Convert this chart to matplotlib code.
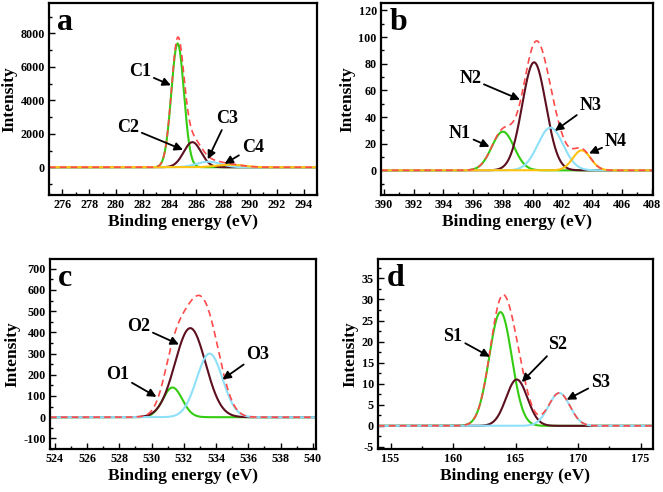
import numpy as np
import matplotlib
matplotlib.use("Agg")
import matplotlib.pyplot as plt
from matplotlib.ticker import MultipleLocator

plt.rcParams['font.family'] = 'Liberation Serif'
plt.rcParams['font.weight'] = 'bold'
plt.rcParams['axes.unicode_minus'] = False

# fitted components: center (eV), height, sigma (eV)
c_names = ['C1', 'C2', 'C3', 'C4']
c_center = [284.6, 285.7, 286.9, 288.5]
c_height = [7400, 1500, 330, 150]
c_sigma = [0.47, 0.65, 0.9, 1.0]

n_names = ['N1', 'N2', 'N3', 'N4']
n_center = [398.0, 400.1, 401.2, 403.3]
n_height = [29, 81, 32, 15]
n_sigma = [0.75, 0.8, 0.85, 0.6]

o_names = ['O1', 'O2', 'O3']
o_center = [531.3, 532.4, 533.6]
o_height = [140, 420, 300]
o_sigma = [0.6, 0.95, 0.8]

s_names = ['S1', 'S2', 'S3']
s_center = [163.8, 165.1, 168.5]
s_height = [27, 11, 7.8]
s_sigma = [0.9, 0.85, 0.85]

# label text position and arrow tip (data coords)
c_text = [(281.8, 5700), (280.9, 2400), (288.3, 2900), (290.2, 1200)]
c_tip = [(284.1, 4900), (285.0, 1040), (286.85, 480), (288.1, 200)]
n_text = [(395.1, 27.7), (395.8, 68.9), (403.9, 48.9), (405.6, 21.4)]
n_tip = [(397.1, 17.7), (399.15, 53), (401.5, 29.6), (403.8, 12.7)]
o_text = [(527.9, 201), (529.2, 429), (536.6, 296)]
o_tip = [(530.3, 96), (531.7, 343), (534.4, 178)]
s_text = [(160.0, 21.2), (168.4, 19.2), (171.8, 10.4)]
s_tip = [(162.95, 16.4), (165.5, 10.4), (169.1, 6.2)]

GREEN = '#33cc11'
MAROON = '#5c0f1f'
CYAN = '#8ee0f8'
YELLOW = '#ffc20e'
RED = '#ff4a4a'

W, H = 663, 492
fig = plt.figure(figsize=(W / 100, H / 100), dpi=100)


def make_ax(l, r, t, b):
    return fig.add_axes([l / W, 1 - b / H, (r - l) / W, (b - t) / H])


def panel(ax, letter, names, center, height, sigma, colors, xlim, ylim,
          xmaj, xmin, ymaj, ymin, texts, tips):
    x = np.linspace(xlim[0], xlim[1], 1500)
    total = np.zeros_like(x)
    comps = []
    for c, h, s in zip(center, height, sigma):
        y = h * np.exp(-(x - c) ** 2 / (2 * s ** 2))
        comps.append(y)
        total += y
    for y, col in zip(comps, colors):
        ax.plot(x, y, color=col, lw=1.5)
    ax.plot(x, total, color=RED, lw=1.2, ls=(0, (4, 2.5)))
    ax.set_xlim(*xlim)
    ax.set_ylim(*ylim)
    ax.xaxis.set_major_locator(MultipleLocator(xmaj))
    ax.xaxis.set_minor_locator(MultipleLocator(xmin))
    ax.yaxis.set_major_locator(MultipleLocator(ymaj))
    ax.yaxis.set_minor_locator(MultipleLocator(ymin))
    ax.tick_params(which='both', direction='in', top=False, right=False,
                   labelsize=8.7, width=1.0)
    ax.tick_params(which='major', length=4, pad=3)
    ax.tick_params(which='minor', length=2)
    for lab in ax.get_xticklabels() + ax.get_yticklabels():
        lab.set_fontweight('bold')
    for sp in ax.spines.values():
        sp.set_linewidth(1.6)
    ax.set_xlabel('Binding energy (eV)', fontsize=12.5, fontweight='bold',
                  labelpad=2)
    ax.set_ylabel('Intensity', fontsize=12.5, fontweight='bold', labelpad=2)
    ax.text(0.03, 0.975, letter, transform=ax.transAxes, fontsize=23,
            fontweight='bold', va='top', ha='left')
    for name, txt, tip in zip(names, texts, tips):
        ax.annotate(name, xy=tip, xytext=txt, fontsize=13, fontweight='bold',
                    ha='center', va='center',
                    arrowprops=dict(arrowstyle='-|>', color='black', lw=1.3,
                                    mutation_scale=12, shrinkA=0, shrinkB=0))


ax_a = make_ax(49, 317, 3, 195)
panel(ax_a, 'a', c_names, c_center, c_height, c_sigma,
      [GREEN, MAROON, CYAN, YELLOW], (275, 295), (-1660, 9820),
      2, 1, 2000, 1000, c_text, c_tip)

ax_b = make_ax(381, 653, 3, 195)
panel(ax_b, 'b', n_names, n_center, n_height, n_sigma,
      [GREEN, MAROON, CYAN, YELLOW], (389.8, 408.1), (-18.5, 125.5),
      2, 1, 20, 10, n_text, n_tip)

ax_c = make_ax(50, 316, 259, 449)
panel(ax_c, 'c', o_names, o_center, o_height, o_sigma,
      [GREEN, MAROON, CYAN], (523.7, 540.2), (-150, 746),
      2, 1, 100, 50, o_text, o_tip)

ax_d = make_ax(378, 653, 259, 449)
panel(ax_d, 'd', s_names, s_center, s_height, s_sigma,
      [GREEN, MAROON, CYAN], (154, 176), (-5.5, 39.6),
      5, 2.5, 5, 2.5, s_text, s_tip)

fig.savefig('out.png', dpi=100)
